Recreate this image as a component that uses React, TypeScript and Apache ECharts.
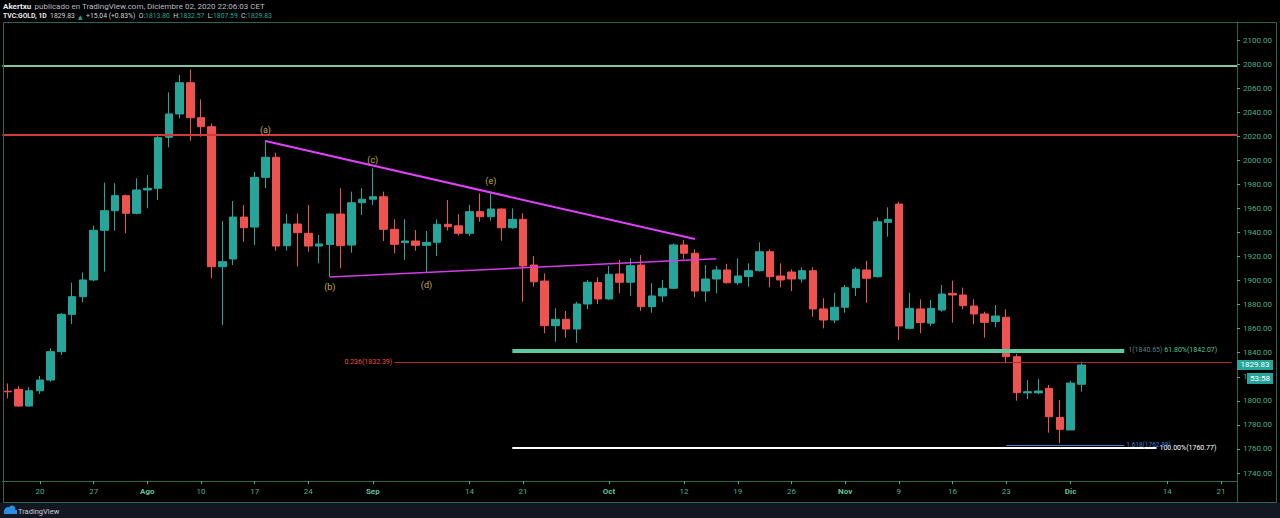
import React, { useEffect, useRef } from "react";
import * as echarts from "echarts";

// ---------- data ----------
const firstDate = "2020-07-15";
const lastDate = "2020-12-22";

const opens = [
  1808, 1809.6, 1795.7, 1808.4, 1817.3, 1840.9, 1871.9, 1886.6, 1900.5, 1941.8,
  1958.1, 1970.6, 1955.9, 1975.3, 1976.7, 2019.1, 2038.5, 2064.5, 2035.4, 2027.9,
  1911.5, 1917.9, 1952.8, 1944.5, 1985.8, 2002.5, 1929, 1947, 1939.3, 1928.7,
  1930, 1955.3, 1929.5, 1964.7, 1967.6, 1969.7, 1942.6, 1931.5, 1932.9, 1929.3,
  1931.8, 1946.8, 1945.5, 1939.3, 1957.3, 1953.1, 1959.5, 1943.9, 1950.9, 1912.9,
  1899.6, 1862.5, 1867.8, 1859.7, 1880.5, 1898.3, 1884.7, 1905.5, 1898.6, 1912.9,
  1878.3, 1887.2, 1893.6, 1929.6, 1922.7, 1891.3, 1901.3, 1908.8, 1898.2, 1903.3,
  1908.2, 1924, 1903.8, 1907.1, 1901.3, 1908.2, 1876.4, 1867.2, 1877.8, 1894.1,
  1908.8, 1903.2, 1948.4, 1963.6, 1860.3, 1876.4, 1864.6, 1875.5, 1889.4, 1888,
  1878.8, 1872.2, 1866, 1869.5, 1836.7, 1806.6, 1806.6, 1810.4, 1786.1, 1775.8,
  1813.8,
];
const closes = [
  1807.5, 1795.7, 1808.4, 1817.3, 1840.9, 1871.9, 1886.6, 1900.5, 1941.8, 1958.1,
  1970.6, 1955.9, 1975.3, 1976.7, 2018.8, 2038.5, 2064.5, 2035.4, 2027.9, 1911.5,
  1915.7, 1952.8, 1943.9, 1985.8, 2002.5, 1928.7, 1947, 1939.8, 1928.7, 1930.4,
  1955.3, 1929, 1964.7, 1967.6, 1969.7, 1942.6, 1930.1, 1932.9, 1929.3, 1931.8,
  1946.8, 1944.8, 1939.3, 1957.3, 1953.1, 1959.5, 1943.9, 1950.9, 1912.1, 1899,
  1862.5, 1867.8, 1859.7, 1880.5, 1898.6, 1884.7, 1905.2, 1898.6, 1912.4, 1878.3,
  1887.2, 1893.6, 1929.6, 1922.7, 1891.3, 1901.3, 1908.8, 1898.2, 1903.8, 1908.2,
  1924, 1903.2, 1900.5, 1901.3, 1908.2, 1876.4, 1867.2, 1877.8, 1894.1, 1909.4,
  1901.9, 1948.9, 1950.9, 1862.2, 1876.9, 1865, 1876.9, 1888.8, 1888, 1879.1,
  1872.2, 1865.3, 1870.5, 1836.7, 1806.8, 1807.6, 1808.2, 1786.8, 1776.3, 1814.79,
  1829.83,
];
const lows = [
  1802, 1795.1, 1795, 1805.7, 1815.9, 1838.1, 1863.9, 1881.9, 1899.5, 1907.4,
  1941.5, 1939.3, 1955, 1960.1, 1967, 2010.8, 2034.9, 2016.3, 2019.6, 1901.9,
  1863, 1912.9, 1932.3, 1929.6, 1976.7, 1924.8, 1924.8, 1911.5, 1924, 1914.3,
  1903, 1910.2, 1923.2, 1954.5, 1962.8, 1932.9, 1922.7, 1917.1, 1924.8, 1906.9,
  1920.4, 1941.5, 1937.3, 1937, 1948.9, 1949.8, 1933.1, 1943, 1882.4, 1894.9,
  1856.2, 1849.2, 1852.5, 1848.3, 1876.1, 1880.5, 1884, 1889.4, 1887.2, 1874.9,
  1873.3, 1881.9, 1893, 1917.7, 1886.1, 1882.4, 1889.4, 1897.5, 1896.3, 1894.9,
  1907.5, 1894.4, 1894.4, 1891.3, 1898.2, 1870, 1860.3, 1864.5, 1873.3, 1887.2,
  1881.6, 1902.5, 1936.5, 1850.6, 1859.5, 1856.2, 1862.2, 1874.1, 1865, 1876.1,
  1863.6, 1852.5, 1861.1, 1831.2, 1800.1, 1801.3, 1805.6, 1773.5, 1764.7, 1775.5,
  1807.59,
];
const highs = [
  1814.5, 1812.3, 1811.3, 1820.7, 1843.7, 1873, 1898.2, 1906.9, 1945.6, 1981.4,
  1980.9, 1971.5, 1985, 1987.8, 2020.2, 2056.5, 2070.9, 2075.6, 2050.7, 2030.7,
  1949.5, 1966.1, 1962.8, 1990.5, 2016.9, 2006.3, 1955.3, 1955.9, 1962.8, 1937.9,
  1955.8, 1976.7, 1973.9, 1976.7, 1993.3, 1973.9, 1950.9, 1950.9, 1942, 1941.2,
  1950.9, 1967, 1955.3, 1962.8, 1972.5, 1972.5, 1960, 1960, 1955.9, 1920.4,
  1906, 1876.9, 1874.7, 1882.4, 1900.5, 1902.7, 1912.1, 1917.1, 1918.5, 1921.2,
  1897.7, 1900.5, 1931, 1933.7, 1926, 1912.9, 1912, 1913.8, 1918.5, 1914.3,
  1931.8, 1926, 1914.3, 1909.4, 1911, 1911, 1885.3, 1889.9, 1896.3, 1911,
  1916.5, 1952.6, 1960.9, 1965.6, 1889.9, 1884.4, 1883.8, 1896.3, 1899.9, 1894.1,
  1884.4, 1874.1, 1879.7, 1876.1, 1839, 1817.3, 1818.2, 1813.2, 1800.7, 1816.7,
  1832.57,
];

const yTicks = [
  1740, 1760, 1780, 1800, 1820, 1840, 1860, 1880, 1900, 1920, 1940, 1960, 1980,
  2000, 2020, 2040, 2060, 2080, 2100,
];

const xLabelDates = [
  "2020-07-20", "2020-07-27", "2020-08-03", "2020-08-10", "2020-08-17",
  "2020-08-24", "2020-09-01", "2020-09-14", "2020-09-21", "2020-10-01",
  "2020-10-12", "2020-10-19", "2020-10-26", "2020-11-02", "2020-11-09",
  "2020-11-16", "2020-11-23", "2020-12-01", "2020-12-14", "2020-12-21",
];
const xLabelTexts = [
  "20", "27", "Ago", "10", "17", "24", "Sep", "14", "21", "Oct",
  "12", "19", "26", "Nov", "9", "16", "23", "Dic", "14", "21",
];
const monthNames = ["Ago", "Sep", "Oct", "Nov", "Dic"];

// horizontal levels
const greenResistance = 2078.6;
const redResistance = 2021;

// fib levels: [fromDate, toDate, value]
const fib0236 = ["2020-09-03", "2020-12-22", 1832.39];
const fib1 = ["2020-09-18", "2020-12-08", 1840.65];
const fib618 = ["2020-09-18", "2020-12-08", 1842.07];
const fib100 = ["2020-09-18", "2020-12-11", 1760.77];
const fib1618 = ["2020-11-23", "2020-12-08", 1762.88];

// triangle trend lines
const upperTrend = [["2020-08-18", 2016.0], ["2020-10-13", 1934.5]];
const lowerTrend = [["2020-08-26", 1903.0], ["2020-10-15", 1918.2]];

// wave labels
const waveDates = ["2020-08-18", "2020-08-26", "2020-09-01", "2020-09-08", "2020-09-16"];
const wavePrices = [2025.2, 1894.6, 2000.2, 1896.3, 1982.8];
const waveTexts = ["(a)", "(b)", "(c)", "(d)", "(e)"];

const lastPrice = 1829.83;
const countdown = "53:58";

// ---------- helpers ----------
function weekdays(start: string, end: string): string[] {
  const out: string[] = [];
  const d = new Date(start + "T00:00:00Z");
  const e = new Date(end + "T00:00:00Z");
  while (d <= e) {
    const w = d.getUTCDay();
    if (w !== 0 && w !== 6) out.push(d.toISOString().slice(0, 10));
    d.setUTCDate(d.getUTCDate() + 1);
  }
  return out;
}

const UP = "#26a69a";
const DOWN = "#ef5350";
const AXIS_TXT = "#4fae8b";
const BORDER = "#2b6654";
const FONT = "Roboto, 'Liberation Sans', sans-serif";

const W = 1280;
const H = 518;
const PANE_TOP = 22;
const PANE_BOTTOM = 481;
const AXIS_X = 1237;
const GRID_LEFT = 2.4;
const PX_PER_UNIT = 1.2028;
const Y_MAX = 2100 + (40 - PANE_TOP) / PX_PER_UNIT;
const Y_MIN = Y_MAX - (PANE_BOTTOM - PANE_TOP) / PX_PER_UNIT;

export default function App() {
  const ref = useRef<HTMLDivElement>(null);

  useEffect(() => {
    if (!ref.current) return;
    const chart = echarts.init(ref.current, null, { renderer: "svg" });
    const cats = weekdays(firstDate, lastDate);
    const candles = opens.map((o, i) => [o, closes[i], lows[i], highs[i]]);
    const labelMap: Record<string, string> = {};
    xLabelDates.forEach((d, i) => (labelMap[d] = xLabelTexts[i]));

    const fibSeg = (f: any[], color: string, width: number, label: any) => [
      {
        coord: [f[0], f[2]],
        lineStyle: { color, width, type: "solid" },
        label,
      },
      { coord: [f[1], f[2]] },
    ];

    const option: any = {
      animation: false,
      backgroundColor: "#000000",
      textStyle: { fontFamily: FONT },
      grid: {
        left: GRID_LEFT,
        right: W - AXIS_X,
        top: PANE_TOP,
        bottom: H - PANE_BOTTOM,
        containLabel: false,
      },
      xAxis: {
        type: "category",
        data: cats,
        boundaryGap: true,
        axisLine: { show: true, lineStyle: { color: BORDER, width: 1 } },
        axisTick: {
          show: true,
          length: 3,
          alignWithLabel: true,
          lineStyle: { color: AXIS_TXT },
          interval: (_i: number, v: string) => !!labelMap[v],
        },
        axisLabel: {
          interval: (_i: number, v: string) => !!labelMap[v],
          formatter: (v: string) => {
            const t = labelMap[v] || "";
            return monthNames.includes(t) ? `{m|${t}}` : t;
          },
          color: AXIS_TXT,
          fontSize: 8,
          fontFamily: FONT,
          margin: 6,
          rich: {
            m: { color: "#62c29c", fontSize: 8, fontWeight: "bold", fontFamily: FONT },
          },
        },
        splitLine: { show: false },
      },
      yAxis: {
        type: "value",
        position: "right",
        min: Y_MIN,
        max: Y_MAX,
        scale: true,
        axisLine: { show: true, lineStyle: { color: BORDER, width: 1 } },
        axisTick: {
          show: true,
          length: 3,
          customValues: yTicks,
          lineStyle: { color: AXIS_TXT },
        },
        axisLabel: {
          customValues: yTicks,
          formatter: (v: number) => v.toFixed(2),
          color: AXIS_TXT,
          fontSize: 8,
          fontFamily: FONT,
          margin: 6,
        },
        splitLine: { show: false },
      },
      series: [
        {
          type: "candlestick",
          data: candles,
          barWidth: 8,
          itemStyle: {
            color: UP,
            color0: DOWN,
            borderColor: UP,
            borderColor0: DOWN,
            borderWidth: 1,
          },
          markLine: {
            silent: true,
            symbol: ["none", "none"],
            animation: false,
            label: { fontFamily: FONT, fontSize: 7 },
            data: [
              {
                yAxis: greenResistance,
                lineStyle: { color: "#82c4a4", width: 2, type: "solid" },
                label: { show: false },
              },
              {
                yAxis: redResistance,
                lineStyle: { color: "#cf3b3b", width: 2, type: "solid" },
                label: { show: false },
              },
              fibSeg(fib0236, "#b8262e", 1, {
                show: true,
                position: "start",
                distance: 2,
                formatter: `0.236(${fib0236[2]})`,
                color: "#e0544c",
                fontSize: 7,
              }),
              fibSeg(fib1, "#5cc9a0", 2, { show: false }),
              fibSeg(fib618, "#5cc9a0", 2, {
                show: true,
                position: "end",
                distance: 4,
                formatter: `{g|1(${fib1[2]})} {t|61.80%(${fib618[2]})}`,
                rich: {
                  g: { color: "#5f7f8c", fontSize: 7, fontFamily: FONT },
                  t: { color: "#55c49b", fontSize: 7, fontFamily: FONT },
                },
              }),
              fibSeg(fib100, "#ffffff", 2, {
                show: true,
                position: "end",
                distance: 3,
                formatter: `100.00%(${fib100[2]})`,
                color: "#ffffff",
                fontSize: 7,
              }),
              fibSeg(fib1618, "#3d7fd6", 1, {
                show: true,
                position: "end",
                distance: 2,
                formatter: `1.618(${fib1618[2]})`,
                color: "#3d7fd6",
                fontSize: 6.5,
              }),
            ],
          },
        },
        {
          type: "line",
          data: upperTrend,
          symbol: "none",
          silent: true,
          lineStyle: { color: "#e040fb", width: 2 },
          z: 5,
        },
        {
          type: "line",
          data: lowerTrend,
          symbol: "none",
          silent: true,
          lineStyle: { color: "#d63be8", width: 1.5 },
          z: 5,
        },
        {
          type: "scatter",
          data: waveDates.map((d, i) => [d, wavePrices[i], waveTexts[i]]),
          symbolSize: 0,
          silent: true,
          label: {
            show: true,
            position: "inside",
            formatter: (p: any) => p.value[2],
            color: "#f2da5e",
            fontSize: 9,
            fontFamily: FONT,
          },
          z: 6,
        },
      ],
    };
    chart.setOption(option);

    const py = chart.convertToPixel({ yAxisIndex: 0 }, lastPrice) as number;
    const graphic: any[] = [
      // pane border
      {
        type: "rect",
        z: 50,
        shape: { x: 3.5, y: PANE_TOP + 0.5, width: 1273, height: 502 - PANE_TOP },
        style: { fill: "none", stroke: BORDER, lineWidth: 1 },
        silent: true,
      },
      {
        type: "line",
        z: 50,
        shape: { x1: AXIS_X + 0.5, y1: PANE_BOTTOM, x2: AXIS_X + 0.5, y2: 502 },
        style: { stroke: BORDER, lineWidth: 1 },
        silent: true,
      },
      // footer
      {
        type: "rect",
        z: 40,
        shape: { x: 0, y: 503, width: W, height: H - 503 },
        style: { fill: "#131722" },
        silent: true,
      },
      {
        type: "circle",
        z: 60,
        shape: { cx: 8, cy: 510.5, r: 3.5 },
        style: { fill: "#2a8ee6" },
      },
      {
        type: "circle",
        z: 60,
        shape: { cx: 12, cy: 509, r: 3.5 },
        style: { fill: "#2a8ee6" },
      },
      {
        type: "rect",
        z: 60,
        shape: { x: 4, y: 510, width: 13, height: 4 },
        style: { fill: "#2a8ee6" },
      },
      {
        type: "text",
        z: 60,
        x: 18,
        y: 511,
        style: {
          text: "TradingView",
          fill: "#c9ccd4",
          fontSize: 7.5,
          fontFamily: FONT,
          verticalAlign: "middle",
        },
      },
      // header
      {
        type: "text",
        z: 60,
        x: 3,
        y: 6,
        style: {
          text: "{a|Akertxu} {b|publicado en TradingView.com, Diciembre 02, 2020 22:06:03 CET}",
          verticalAlign: "middle",
          rich: {
            a: { fill: "#e6e8ee", fontSize: 8, fontWeight: "bold", fontFamily: FONT },
            b: { fill: "#b8bcc6", fontSize: 8, fontFamily: FONT },
          },
        },
      },
      {
        type: "text",
        z: 60,
        x: 3,
        y: 16,
        style: {
          text:
            "{w|TVC:GOLD, 1D} {n|1829.83} {u|▲} {n|+15.04 (+0.83%)} {n|O:}{v|1813.80} {n|H:}{v|1832.57} {n|L:}{v|1807.59} {n|C:}{v|1829.83}",
          verticalAlign: "middle",
          rich: {
            w: { fill: "#e6e8ee", fontSize: 6.8, fontWeight: "bold", fontFamily: FONT },
            n: { fill: "#d1d4dc", fontSize: 6.8, fontFamily: FONT },
            u: { fill: UP, fontSize: 6, fontFamily: "'DejaVu Sans', sans-serif" },
            v: { fill: UP, fontSize: 6.8, fontFamily: FONT },
          },
        },
      },
      // price tags
      {
        type: "rect",
        z: 100,
        shape: { x: AXIS_X, y: py - 5, width: 36, height: 10 },
        style: { fill: "#26a69a" },
      },
      {
        type: "text",
        z: 101,
        x: AXIS_X + 18,
        y: py,
        style: {
          text: lastPrice.toFixed(2),
          fill: "#ffffff",
          fontSize: 8,
          fontFamily: FONT,
          align: "center",
          verticalAlign: "middle",
        },
      },
      {
        type: "rect",
        z: 100,
        shape: { x: AXIS_X + 10, y: py + 8, width: 26, height: 11 },
        style: { fill: "#26a69a" },
      },
      {
        type: "text",
        z: 101,
        x: AXIS_X + 23,
        y: py + 13.5,
        style: {
          text: countdown,
          fill: "#ffffff",
          fontSize: 8,
          fontFamily: FONT,
          align: "center",
          verticalAlign: "middle",
        },
      },
    ];
    chart.setOption({ graphic });

    return () => chart.dispose();
  }, []);

  return (
    <div
      ref={ref}
      style={{ position: "absolute", left: 0, top: 0, width: W, height: H }}
    />
  );
}
